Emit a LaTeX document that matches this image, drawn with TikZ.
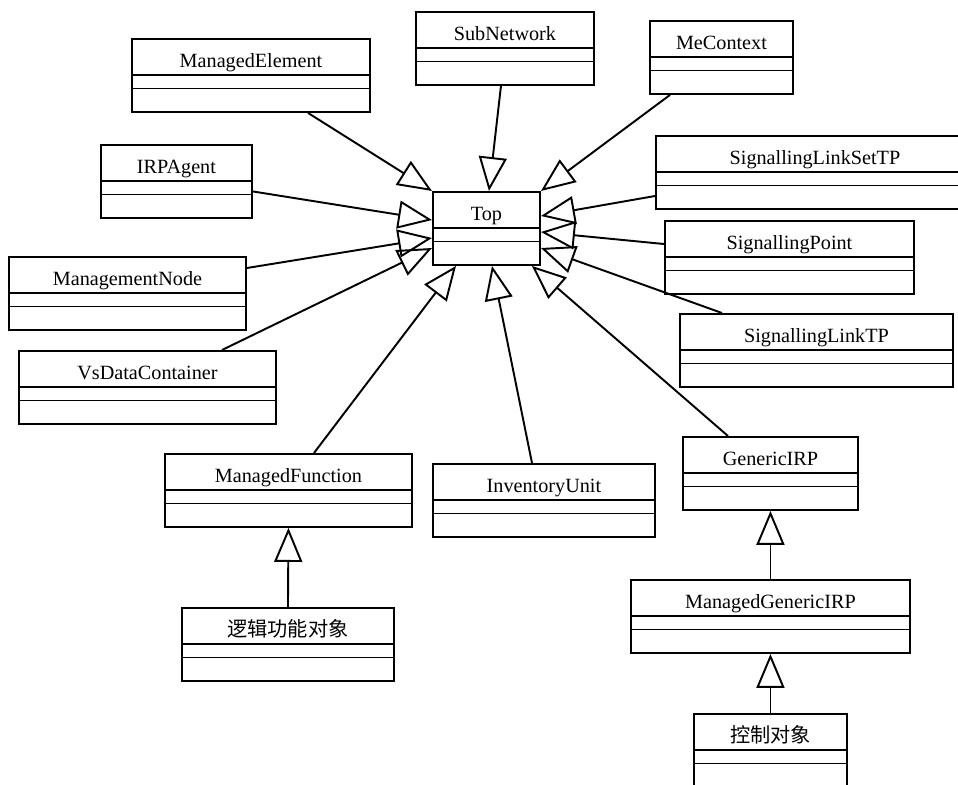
\documentclass[tikz,border=0pt]{standalone}
\usepackage{fontspec}
\setmainfont{Liberation Serif}
\newfontfamily\cjk{Noto Sans CJK SC}
\usepackage{tikz}
\usetikzlibrary{arrows.meta,calc,positioning}

% class box: name, top-left corner, width (px), class name
\newcommand{\umlclass}[4]{%
    \node[classbox,minimum width={#3*0.02cm}] (#1) at (#2) {};
    \node[classname] at ($(#1.north)+(0,29)$) {#4};
    \draw ($(#1.north west)+(0,37)$) -- ($(#1.north east)+(0,37)$);
    \draw ($(#1.north west)+(0,50.5)$) -- ($(#1.north east)+(0,50.5)$);
}

\begin{document}
\begin{tikzpicture}[
    x=0.02cm, y=-0.02cm,
    line width=1.1pt,
    classbox/.style={draw,rectangle,anchor=north west,inner sep=0pt,minimum height=1.46cm},
    classname/.style={anchor=base,inner sep=0pt,font=\fontsize{11.5}{13}\selectfont},
    gen/.style={-{Triangle[open,length=0.68cm,width=0.56cm]},line join=miter}
]
    \useasboundingbox (0,0) rectangle (958,785);
    \umlclass{top}{432,191}{107}{Top}
    \umlclass{mgdel}{131,38}{238}{ManagedElement}
    \umlclass{subnet}{415,11}{178}{SubNetwork}
    \umlclass{mectx}{649,20}{143}{MeContext}
    \umlclass{irpag}{100,144}{151}{IRPAgent}
    \umlclass{mgmtnode}{8,256}{237}{ManagementNode}
    \umlclass{vsdata}{18,350}{257}{VsDataContainer}
    \umlclass{slsettp}{655,135}{318}{SignallingLinkSetTP}
    \umlclass{sigpt}{664,220}{249}{SignallingPoint}
    \umlclass{sltp}{679,313}{273}{SignallingLinkTP}
    \umlclass{mgdfn}{164,453}{247}{ManagedFunction}
    \umlclass{invunit}{432,463}{222}{InventoryUnit}
    \umlclass{genirp}{682,436}{175}{GenericIRP}
    \umlclass{mgirp}{630,579}{279}{ManagedGenericIRP}
    \umlclass{logic}{181,607}{212}{\cjk 逻辑功能对象}
    \umlclass{ctrl}{693,713}{153}{\cjk 控制对象}
    % generalisations into Top
    \draw[gen] ($(mgdel.south west)+(177,0)$) -- (top.north west);
    \draw[gen] ($(subnet.south)+(-4,0)$) -- ($(top.north)+(2.5,0)$);
    \draw[gen] ($(mectx.south west)+(21,0)$) -- (top.north east);
    \draw[gen] ($(irpag.east)+(0,10)$) -- ($(top.north west)+(0,29)$);
    \draw[gen] ($(mgmtnode.north east)+(0,12)$) -- ($(top.north west)+(0,47)$);
    \draw[gen] ($(vsdata.north west)+(204,0)$) -- ($(top.north west)+(0,57)$);
    \draw[gen] ($(slsettp.north west)+(0,61)$) -- ($(top.north east)+(0,25)$);
    \draw[gen] ($(sigpt.north west)+(0,24)$) -- ($(top.north east)+(0,41)$);
    \draw[gen] ($(sltp.north west)+(43,0)$) -- ($(top.north east)+(0,57)$);
    \draw[gen] ($(mgdfn.north)+(25.5,0)$) -- ($(top.south west)+(24,0)$);
    \draw[gen] ($(invunit.north west)+(100,0)$) -- ($(top.south west)+(60,0)$);
    \draw[gen] ($(genirp.north west)+(46,0)$) -- ($(top.south east)+(-9,0)$);
    % lower chains
    \draw[gen] (logic.north) -- (mgdfn.south);
    \draw[gen] (mgirp.north) -- (genirp.south);
    \draw[gen] (ctrl.north) -- (mgirp.south);
\end{tikzpicture}
\end{document}
